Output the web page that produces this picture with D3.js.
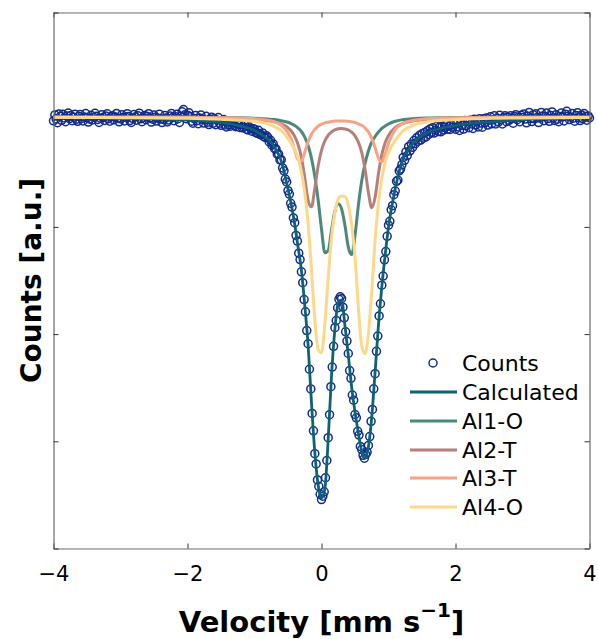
<!DOCTYPE html>
<html>
<head>
<meta charset="utf-8">
<script src="https://cdn.jsdelivr.net/npm/d3@7"></script>
<style>
  body { margin: 0; background: #fff; }
  svg { display: block; font-family: "DejaVu Sans", sans-serif; }
</style>
</head>
<body>
<svg id="chart" width="598" height="639"></svg>
<script>
// velocity (mm/s) at which the fitted curves are sampled
const fitVelocity = [-4, -3, -2, -1.5, -1.2, -1.0, -0.9, -0.8, -0.7, -0.6, -0.5, -0.45, -0.4, -0.35, -0.3, -0.25, -0.2, -0.15, -0.1, -0.05,
  0, 0.05, 0.1, 0.15, 0.2, 0.25, 0.3, 0.35, 0.4, 0.45, 0.5, 0.55, 0.6, 0.65, 0.7, 0.75, 0.8, 0.85, 0.9, 0.95, 1.0,
  1.1, 1.2, 1.3, 1.4, 1.6, 1.8, 2.1, 2.6, 3.0, 4.0];

const calculated = [1002.0, 1001.4, 999.7, 997.4, 994.1, 989.9, 986.2, 982.0, 974.5, 961.4, 935.3, 920.4, 902.7, 881.2, 859.8, 827.1, 789.8, 736.6, 689.9, 659.2,
  647.0, 655.4, 702.1, 761.8, 804.7, 829.5, 832.0, 808.0, 780.4, 750.6, 727.3, 707.7, 690.9, 684.3, 694.6, 722.6, 764.6, 808.4, 843.9, 873.7, 899.9,
  935.3, 960.5, 972.6, 980.1, 988.5, 992.2, 995.5, 998.3, 1000.2, 1002.0];
const al1O = [1002.4, 1002.4, 1002.2, 1002.0, 1001.8, 1001.4, 1001.0, 1000.6, 1000.1, 999.1, 997.6, 996.2, 994.6, 992.2, 989.0, 983.8, 975.9, 964.2, 947.5, 925.1,
  898.0, 875.9, 878.0, 897.3, 914.8, 921.5, 916.7, 901.4, 881.2, 874.1, 892.0, 920.0, 942.8, 959.1, 970.8, 979.2, 984.3, 988.5, 991.8, 994.1, 996.0,
  998.6, 999.9, 1000.6, 1001.2, 1001.7, 1001.9, 1002.1, 1002.3, 1002.3, 1002.4];
const al2T = [1002.4, 1002.3, 1002.0, 1001.6, 1001.1, 1000.4, 999.9, 999.1, 998.0, 996.0, 992.3, 989.2, 984.5, 976.9, 964.9, 946.1, 924.6, 918.7, 935.9, 956.8,
  971.3, 980.2, 985.5, 988.7, 990.6, 991.6, 991.9, 991.4, 990.4, 988.3, 984.9, 979.1, 969.5, 953.8, 932.3, 917.8, 927.6, 949.6, 967.2, 978.4, 985.3,
  992.7, 996.2, 998.1, 999.2, 1000.4, 1001.1, 1001.6, 1002.0, 1002.1, 1002.3];
const al3T = [1002.4, 1002.4, 1002.2, 1001.9, 1001.5, 1000.8, 1000.3, 999.4, 997.9, 994.8, 987.9, 981.4, 972.0, 962.7, 961.4, 969.7, 979.5, 986.5, 991.0, 993.9,
  995.8, 997.0, 997.7, 998.3, 998.7, 998.8, 998.9, 998.7, 998.5, 998.0, 997.4, 996.2, 994.8, 992.3, 988.6, 982.6, 973.9, 964.1, 960.8, 967.8, 978.0,
  990.7, 996.0, 998.4, 999.7, 1001.0, 1001.5, 1001.9, 1002.2, 1002.3, 1002.4];
const al4O = [1002.2, 1001.9, 1001.3, 1000.4, 999.5, 998.5, 997.5, 996.0, 993.6, 989.7, 982.4, 977.9, 972.2, 964.2, 951.7, 932.2, 902.8, 860.2, 814.0, 785.5,
  782.8, 809.7, 852.5, 890.6, 913.9, 926.0, 928.8, 928.3, 920.4, 901.7, 871.9, 825.4, 789.2, 781.6, 800.5, 839.7, 888.0, 922.2, 945.0, 960.3, 969.5,
  980.6, 988.7, 992.9, 995.5, 998.2, 999.4, 1000.4, 1001.3, 1001.7, 1002.0];

// measured spectrum: one value per channel, channels from -4 mm/s in steps of 0.02 mm/s
const countsStart = -4;
const countsStep = 0.02;
const counts = [
  999.0, 1004.4, 1000.7, 997.2, 1005.4, 1003.0, 999.4, 1005.0, 1001.7, 998.2,
  1003.4, 1006.2, 1000.9, 1003.9, 999.1, 1002.2, 1005.2, 1000.4, 998.5, 1003.1,
  1004.9, 1001.2, 998.8, 1002.6, 1005.7, 1001.8, 997.8, 1000.6, 1004.1, 999.8,
  1002.3, 1006.0, 1003.3, 1000.2, 997.5, 1001.4, 1004.6, 1002.0, 999.3, 1003.4,
  1005.5, 1001.0, 998.6, 1002.8, 1003.8, 999.9, 1002.5, 1005.8, 1001.4, 998.0,
  1000.8, 1004.7, 1002.4, 998.9, 1002.3, 1005.6, 1003.1, 999.2, 997.5, 1001.3,
  1004.8, 1002.6, 999.5, 1003.7, 1006.1, 1000.8, 998.1, 1001.9, 1004.0, 1000.0,
  1003.1, 1005.6, 1001.8, 997.8, 1000.5, 1004.3, 1002.4, 998.7, 1001.3, 1005.1,
  1001.0, 997.3, 1000.2, 1003.9, 1001.6, 997.9, 999.7, 1003.4, 1005.8, 1002.1,
  999.1, 1002.8, 1005.0, 1001.0, 997.4, 1003.3, 1007.4, 1009.5, 1004.6, 1000.9,
  1004.2, 1006.5, 1003.1, 998.6, 996.8, 1001.1, 1004.0, 999.1, 996.3, 1001.6,
  1004.3, 1000.6, 996.9, 999.8, 1003.2, 997.7, 995.5, 1000.4, 1002.4, 996.6,
  1000.9, 995.4, 999.6, 1002.0, 996.7, 994.8, 998.9, 1000.1, 995.1, 993.3,
  997.8, 995.2, 993.9, 996.9, 998.0, 994.6, 993.5, 995.9, 996.4, 992.8,
  995.6, 992.4, 993.0, 995.1, 991.2, 990.5, 993.4, 992.0, 989.3, 991.6,
  991.2, 988.0, 987.5, 990.1, 986.4, 985.9, 987.7, 984.1, 983.5, 985.0,
  983.4, 979.3, 980.8, 976.2, 977.4, 973.0, 972.9, 967.8, 968.0, 962.5,
  962.6, 955.0, 952.3, 944.6, 941.9, 933.8, 930.6, 922.0, 918.5, 908.4,
  903.9, 892.0, 886.8, 875.5, 869.5, 858.1, 848.0, 832.2, 820.8, 803.3,
  791.0, 767.2, 748.9, 726.0, 709.8, 688.5, 678.9, 664.0, 658.0, 650.6,
  645.6, 648.8, 652.9, 666.0, 682.1, 703.4, 724.8, 751.0, 769.2, 788.6,
  806.0, 812.7, 824.5, 832.5, 834.8, 833.0, 825.1, 815.2, 802.1, 793.5,
  781.9, 766.0, 758.8, 743.2, 738.4, 725.0, 721.9, 709.3, 705.8, 695.2,
  692.3, 686.9, 684.2, 687.8, 689.9, 696.1, 704.4, 718.6, 729.7, 749.0,
  763.1, 783.9, 798.2, 817.0, 828.3, 845.6, 854.1, 869.3, 877.0, 891.2,
  901.6, 905.2, 916.0, 919.8, 930.1, 933.4, 942.5, 943.6, 952.3, 953.9,
  958.0, 964.8, 962.1, 969.9, 966.5, 974.8, 971.0, 977.3, 974.2, 980.5,
  977.6, 983.1, 979.9, 985.2, 981.0, 986.8, 982.7, 988.1, 984.0, 989.6,
  986.2, 991.4, 988.0, 992.6, 987.5, 990.1, 993.8, 989.0, 992.9, 988.7,
  994.0, 990.3, 992.8, 995.6, 991.1, 993.9, 990.9, 995.2, 993.0, 996.3,
  991.1, 997.7, 993.3, 990.0, 998.3, 994.8, 991.3, 999.3, 994.5, 998.5,
  992.6, 999.6, 996.0, 991.9, 1000.4, 995.2, 998.6, 993.3, 1001.0, 996.9,
  993.0, 1000.9, 997.1, 1001.7, 995.0, 999.4, 1002.7, 996.2, 1000.0, 1003.6,
  996.1, 1001.4, 997.8, 1004.1, 1000.1, 996.0, 1001.9, 1003.7, 998.2, 1002.5,
  999.4, 1003.7, 1001.1, 996.8, 1003.0, 1004.7, 1000.0, 1002.3, 998.2, 1004.1,
  1002.0, 1005.4, 1000.6, 997.1, 1003.3, 1006.8, 1001.2, 998.3, 1004.7, 1000.7,
  1005.5, 1002.2, 997.3, 1001.4, 1006.8, 1003.5, 999.1, 1003.1, 1006.2, 1001.1,
  998.5, 1003.9, 1007.2, 1001.7, 999.3, 1004.6, 1000.5, 998.1, 1003.1, 1006.3,
  1002.7, 998.9, 1005.1, 1007.8, 1003.3, 1000.1, 1002.4, 1005.8, 1001.4, 998.6,
  1004.0, 1006.5, 1001.9, 999.2, 1004.5, 1001.1, 1005.7, 1003.1, 999.5, 1003.5, 1001.6
];

const xTicks = [-4, -2, 0, 2, 4];
const yTicks = [600, 700, 800, 900, 1000, 1100];

const seriesNames = ["Calculated", "Al1-O", "Al2-T", "Al3-T", "Al4-O"];
const seriesValues = [calculated, al1O, al2T, al3T, al4O];
const seriesColors = ["#0d6275", "#4b8a7b", "#b5807c", "#f8a286", "#fdd888"];
const countsColor = "#122c8c";

const svg = d3.select("#chart");
const plotL = 53.5, plotR = 589.5, plotT = 12.5, plotB = 548.5;

const x = d3.scaleLinear().domain([-4, 4]).range([plotL, plotR]);
const y = d3.scaleLinear().domain([600, 1100]).range([plotB, plotT]);

// measured points
const countPts = counts.map((c, i) => ({ v: countsStart + i * countsStep, c: c }));
svg.append("g").selectAll("circle").data(countPts).join("circle")
  .attr("cx", d => x(d.v)).attr("cy", d => y(d.c)).attr("r", 4)
  .attr("fill", "none").attr("stroke", countsColor).attr("stroke-width", 1.5);

// fit curves
const line = d3.line()
  .x(d => x(d[0]))
  .y(d => y(d[1]))
  .curve(d3.curveMonotoneX);
seriesValues.forEach((vals, k) => {
  svg.append("path")
    .datum(fitVelocity.map((v, i) => [v, vals[i]]))
    .attr("fill", "none")
    .attr("stroke", seriesColors[k])
    .attr("stroke-width", k === 0 ? 2.8 : 3)
    .attr("d", line);
});

// boxed axes, ticks pointing in
const frame = "#6a6a6a";
const gB = svg.append("g").attr("transform", `translate(0,${plotB})`)
  .call(d3.axisBottom(x).tickValues(xTicks).tickSizeInner(-5).tickSizeOuter(0).tickPadding(18));
const gT = svg.append("g").attr("transform", `translate(0,${plotT})`)
  .call(d3.axisTop(x).tickValues(xTicks).tickSizeInner(-5).tickSizeOuter(0).tickFormat(""));
const gL = svg.append("g").attr("transform", `translate(${plotL},0)`)
  .call(d3.axisLeft(y).tickValues(yTicks).tickSizeInner(-5).tickSizeOuter(0).tickFormat(""));
const gR = svg.append("g").attr("transform", `translate(${plotR},0)`)
  .call(d3.axisRight(y).tickValues(yTicks).tickSizeInner(-5).tickSizeOuter(0).tickFormat(""));
[gB, gT, gL, gR].forEach(g => {
  g.select(".domain").attr("stroke", frame).attr("stroke-width", 1.2);
  g.selectAll(".tick line").attr("stroke", "#333");
});
gB.selectAll(".tick text")
  .attr("font-family", "DejaVu Sans, sans-serif")
  .attr("font-size", 21).attr("fill", "#000");

// axis titles
const xl = svg.append("text")
  .attr("x", (plotL + plotR) / 2).attr("y", 632)
  .attr("text-anchor", "middle")
  .attr("font-size", 29).attr("font-weight", "bold");
xl.append("tspan").text("Velocity [mm s");
xl.append("tspan").attr("font-size", 20).attr("dy", -15).text("\u22121");
xl.append("tspan").attr("dy", 15).text("]");

svg.append("text")
  .attr("transform", `translate(41,${(plotT + plotB) / 2}) rotate(-90)`)
  .attr("text-anchor", "middle")
  .attr("font-size", 28).attr("font-weight", "bold")
  .text("Counts [a.u.]");

// legend
const legY = [363, 392, 421, 450, 478, 507];
const lg = svg.append("g");
lg.append("circle").attr("cx", 433).attr("cy", legY[0]).attr("r", 4)
  .attr("fill", "none").attr("stroke", countsColor).attr("stroke-width", 1.5);
lg.append("text").attr("x", 462).attr("y", legY[0]).attr("dy", "0.36em")
  .attr("font-size", 22).text("Counts");
seriesNames.forEach((name, k) => {
  lg.append("line").attr("x1", 410).attr("x2", 457)
    .attr("y1", legY[k + 1]).attr("y2", legY[k + 1])
    .attr("stroke", seriesColors[k]).attr("stroke-width", 3);
  lg.append("text").attr("x", 462).attr("y", legY[k + 1]).attr("dy", "0.36em")
    .attr("font-size", 22).text(name);
});
</script>
</body>
</html>
